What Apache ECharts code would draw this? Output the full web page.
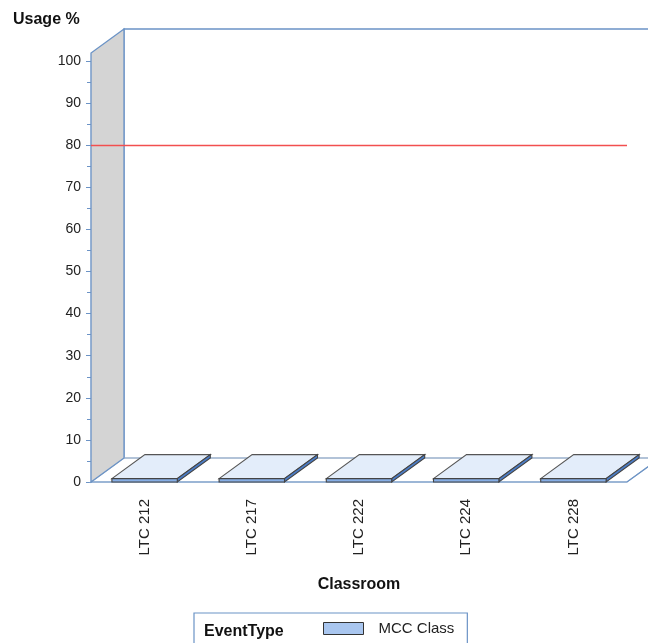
<!DOCTYPE html>
<html>
<head>
<meta charset="utf-8">
<script src="https://cdn.jsdelivr.net/npm/echarts@6/dist/echarts.min.js"></script>
<style>html,body{margin:0;padding:0;background:#fff;}#c{width:648px;height:643px;}</style>
</head>
<body>
<div id="c"></div>
<script>
const categories = ['LTC 212', 'LTC 217', 'LTC 222', 'LTC 224', 'LTC 228'];
const usageValues = [0.8, 0.8, 0.8, 0.8, 0.8];
const thresholdValue = 80;
const yTicks = { min: 0, max: 100, interval: 10 };

const DX = 33, DY = -24, EXT = 8;
const FONT = '"Liberation Sans", Arial, Helvetica, sans-serif';
const axisBlue = '#6b93c6';

const chart = echarts.init(document.getElementById('c'), null, { renderer: 'canvas' });

function wallsRender(params, api) {
  const cs = params.coordSys;
  const x = cs.x, y = cs.y, w = cs.width, h = cs.height;
  const yb = y + h, yt = y - EXT;
  return {
    type: 'group',
    children: [
      { type: 'polyline', shape: { points: [[x + DX, yb + DY], [x + DX, yt + DY], [x + w + DX + 40, yt + DY]] },
        style: { stroke: axisBlue, lineWidth: 1.3, fill: null } },
      { type: 'polygon', shape: { points: [[x, yb], [x + w, yb], [x + w + DX, yb + DY], [x + DX, yb + DY]] },
        style: { fill: '#ffffff', stroke: '#9fb4cf', lineWidth: 1.2 } },
      { type: 'polyline', shape: { points: [[x + DX, yb + DY], [x + w + DX + 40, yb + DY]] },
        style: { stroke: '#a9bbd3', lineWidth: 1.6, fill: null } },
      { type: 'polyline', shape: { points: [[x, yb], [x + w, yb], [x + w + DX, yb + DY]] },
        style: { stroke: axisBlue, lineWidth: 1.2, fill: null } },
      { type: 'polygon', shape: { points: [[x, yb], [x, yt], [x + DX, yt + DY], [x + DX, yb + DY]] },
        style: { fill: '#d4d4d4', stroke: axisBlue, lineWidth: 1.3 } }
    ]
  };
}

function barsRender(params, api) {
  const idx = api.value(0), val = api.value(1);
  const p0 = api.coord([idx, 0]);
  const p1 = api.coord([idx, val]);
  const bw = api.size([1, 0])[0] * 0.61;
  const xl = p0[0] - bw / 2, xr = p0[0] + bw / 2, yb = p0[1], yt = p1[1];
  return {
    type: 'group',
    children: [
      { type: 'polygon', shape: { points: [[xl, yt], [xr, yt], [xr + DX, yt + DY], [xl + DX, yt + DY]] },
        style: { fill: '#e3edfa', stroke: '#555', lineWidth: 1.1 } },
      { type: 'polygon', shape: { points: [[xr, yb], [xr, yt], [xr + DX, yt + DY], [xr + DX, yb + DY]] },
        style: { fill: '#4b7dc8', stroke: '#444', lineWidth: 1.1 } },
      { type: 'rect', shape: { x: xl, y: yt, width: bw, height: yb - yt },
        style: { fill: '#86aee6', stroke: '#444', lineWidth: 1.1 } }
    ]
  };
}

const option = {
  animation: false,
  backgroundColor: '#ffffff',
  title: [
    { text: 'Usage %', left: 8, top: 7, textStyle: { fontFamily: FONT, fontSize: 16, fontWeight: 'bold', color: '#111' } },
    { text: 'EventType', left: 199, top: 619, textStyle: { fontFamily: FONT, fontSize: 16, fontWeight: 'bold', color: '#111' } }
  ],
  legend: {
    left: 194, top: 613,
    padding: [8, 13, 20, 129],
    borderColor: axisBlue, borderWidth: 1.2,
    itemWidth: 40, itemHeight: 12, itemGap: 10,
    textStyle: { fontFamily: FONT, fontSize: 15, color: '#222', padding: [0, 0, 0, 10] },
    data: [{ name: 'MCC Class', icon: 'rect', itemStyle: { color: '#a9c6ef', borderColor: '#333', borderWidth: 1 } }]
  },
  grid: { left: 91, right: 21, top: 61, bottom: 161, containLabel: false },
  xAxis: {
    type: 'category',
    data: categories,
    axisLine: { show: false },
    axisTick: { show: false },
    axisLabel: { rotate: 90, margin: 17, fontFamily: FONT, fontSize: 15, color: '#222' },
    name: 'Classroom',
    nameLocation: 'middle',
    nameGap: 95,
    nameTextStyle: { fontFamily: FONT, fontSize: 16, fontWeight: 'bold', color: '#111' }
  },
  yAxis: {
    type: 'value',
    min: yTicks.min, max: yTicks.max, interval: yTicks.interval,
    axisLine: { show: true, lineStyle: { color: axisBlue, width: 1.3 } },
    axisTick: { show: true, length: 5, lineStyle: { color: axisBlue } },
    minorTick: { show: true, splitNumber: 2, length: 4, lineStyle: { color: axisBlue } },
    splitLine: { show: false },
    axisLabel: { margin: 10, fontFamily: FONT, fontSize: 14, color: '#222' }
  },
  series: [
    { type: 'custom', name: 'walls', renderItem: wallsRender, data: [[0, 0]], silent: true, z: 1, clip: false },
    {
      type: 'custom', name: 'MCC Class', renderItem: barsRender, z: 3, clip: false,
      itemStyle: { color: '#a9c6ef' },
      data: usageValues.map((v, i) => [i, v]),
      markLine: {
        silent: true, symbol: 'none', z: 5,
        label: { show: false },
        lineStyle: { color: '#f24f4f', width: 1.3, type: 'solid' },
        data: [{ yAxis: thresholdValue }]
      }
    }
  ]
};
chart.setOption(option);
</script>
</body>
</html>
